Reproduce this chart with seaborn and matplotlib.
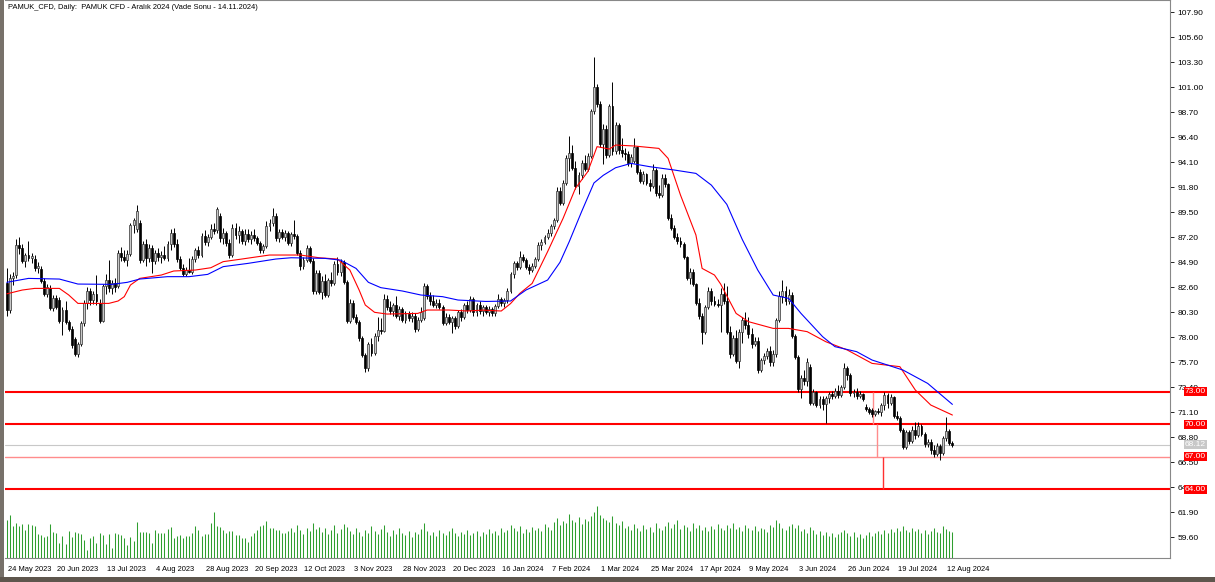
import numpy as np
import matplotlib
matplotlib.use("Agg")
import matplotlib.pyplot as plt
import matplotlib.transforms as mtransforms
from matplotlib.patches import Rectangle
import seaborn as sns

title_text = "PAMUK_CFD, Daily:  PAMUK CFD - Aralık 2024 (Vade Sonu - 14.11.2024)"

date_labels = ["24 May 2023", "20 Jun 2023", "13 Jul 2023", "4 Aug 2023", "28 Aug 2023",
               "20 Sep 2023", "12 Oct 2023", "3 Nov 2023", "28 Nov 2023", "20 Dec 2023",
               "16 Jan 2024", "7 Feb 2024", "1 Mar 2024", "25 Mar 2024", "17 Apr 2024",
               "9 May 2024", "3 Jun 2024", "26 Jun 2024", "19 Jul 2024", "12 Aug 2024"]
label_every = 16  # bars between date labels

price_ticks = [107.90, 105.60, 103.30, 101.00, 98.70, 96.40, 94.10, 91.80, 89.50, 87.20,
               84.90, 82.60, 80.30, 78.00, 75.70, 73.40, 71.10, 68.80, 66.50, 64.20,
               61.90, 59.60]

opens = [
    83.0, 80.5, 83.5, 83.7, 86.5, 86.2, 85.0, 85.6, 85.3, 85.2,
    84.4, 84.3, 83.2, 82.0, 82.5, 80.7, 81.6, 81.4, 79.5, 80.5,
    79.4, 78.8, 77.8, 76.5, 77.4, 79.3, 81.2, 82.3, 81.4, 82.0,
    81.2, 79.5, 82.7, 83.3, 82.5, 83.0, 82.7, 85.8, 85.4, 85.1,
    85.7, 88.3, 88.0, 88.5, 85.1, 86.6, 85.3, 86.2, 85.0, 85.8,
    85.4, 85.6, 85.3, 86.6, 87.6, 86.6, 85.2, 84.4, 83.8, 84.2,
    84.0, 85.2, 86.0, 85.6, 87.3, 86.8, 87.2, 88.0, 87.9, 89.2,
    87.1, 87.6, 86.7, 85.6, 88.1, 87.4, 87.8, 86.9, 87.5, 87.0,
    87.4, 87.1, 86.7, 86.0, 86.4, 88.2, 88.5, 89.2, 87.1, 87.7,
    87.2, 87.6, 86.7, 87.5, 87.3, 85.8, 84.6, 85.1, 86.2, 85.0,
    82.3, 83.9, 82.2, 83.2, 81.9, 83.3, 83.0, 84.7, 84.0, 84.9,
    83.1, 79.5, 81.2, 79.9, 79.4, 77.9, 76.4, 75.2, 77.4, 76.6,
    78.1, 78.7, 78.6, 81.5, 80.8, 80.4, 81.0, 80.0, 80.6, 79.6,
    80.1, 79.8, 80.0, 78.8, 79.6, 79.8, 82.7, 81.8, 81.3, 81.0,
    81.2, 80.8, 79.3, 79.9, 79.4, 79.8, 79.0, 80.3, 79.9, 81.0,
    80.5, 81.5, 80.3, 81.0, 80.4, 80.8, 80.3, 80.6, 80.2, 80.9,
    81.5, 81.2, 81.4, 82.3, 83.8, 84.8, 84.5, 85.4, 85.1, 84.5,
    84.2, 84.6, 85.2, 86.5, 86.8, 87.2, 87.6, 88.2, 88.8, 91.5,
    90.4, 92.2, 94.5, 95.0, 93.6, 91.9, 92.9, 94.0, 93.5, 94.7,
    98.8, 101.0, 99.5, 95.8, 97.2, 94.8, 99.3, 95.1, 97.5, 95.2,
    95.0, 94.9, 94.0, 94.2, 95.5, 93.2, 92.4, 93.0, 92.2, 91.9,
    93.4, 91.3, 91.1, 92.7, 92.1, 89.0, 88.1, 87.2, 86.9, 86.6,
    85.4, 83.5, 84.0, 82.9, 81.2, 80.0, 78.5, 80.8, 82.3, 81.3,
    81.1, 81.0, 82.0, 81.3, 78.5, 76.5, 77.9, 75.8, 78.5, 79.6,
    79.1, 78.3, 77.4, 77.7, 75.0, 75.9, 76.3, 76.7, 75.7, 76.5,
    79.6, 81.8, 82.3, 81.3, 81.9, 78.1, 76.2, 73.2, 74.3, 74.0,
    75.3, 72.0, 73.0, 71.8, 72.3, 71.9, 72.4, 72.8, 72.6, 73.1,
    72.7, 73.4, 75.2, 74.5, 72.9, 73.0, 72.6, 72.8, 71.6, 71.4,
    71.3, 70.9, 71.2, 71.1, 71.8, 72.7, 72.0, 72.5, 70.8, 70.6,
    69.5, 67.9, 69.3, 68.5, 69.5, 69.0, 69.8, 69.1, 68.2, 68.4,
    67.6, 67.3, 68.0, 67.4, 68.7, 69.4, 68.3,
]
highs = [
    84.4, 83.8, 84.0, 87.0, 87.2, 86.6, 85.8, 86.9, 85.8, 85.6,
    84.9, 84.6, 83.5, 82.9, 82.8, 81.9, 81.9, 81.7, 80.8, 81.3,
    79.6, 79.0, 78.0, 77.6, 79.5, 81.4, 82.6, 82.5, 82.3, 83.7,
    81.5, 82.9, 83.8, 85.1, 83.3, 83.5, 86.0, 86.3, 86.0, 86.0,
    88.5, 89.0, 90.2, 88.8, 86.9, 87.0, 86.6, 86.5, 86.0, 86.2,
    85.9, 86.4, 86.9, 88.0, 88.1, 87.0, 85.5, 84.7, 84.5, 85.3,
    85.5, 86.2, 86.4, 87.6, 87.9, 87.5, 88.4, 88.5, 90.0, 89.4,
    88.1, 87.8, 87.0, 88.4, 88.5, 88.2, 88.0, 88.0, 88.0, 87.8,
    88.0, 87.3, 86.9, 86.6, 88.7, 88.9, 89.9, 89.4, 88.0, 88.0,
    87.9, 87.8, 87.7, 88.8, 87.5, 86.0, 85.4, 86.5, 86.4, 85.3,
    84.2, 84.2, 83.6, 83.8, 83.5, 84.0, 85.0, 85.4, 85.2, 85.1,
    83.3, 81.5, 81.4, 80.1, 79.6, 78.1, 76.6, 77.6, 77.9, 78.4,
    79.9, 79.8, 82.0, 81.9, 81.3, 81.2, 81.8, 80.9, 80.8, 80.4,
    80.4, 80.3, 80.2, 79.9, 80.8, 83.0, 82.9, 82.2, 81.9, 81.5,
    81.5, 81.0, 80.2, 80.1, 80.0, 80.0, 80.5, 80.6, 81.2, 81.3,
    81.8, 81.7, 81.2, 81.3, 81.0, 81.0, 80.9, 80.8, 81.1, 82.0,
    81.7, 81.6, 82.5, 84.0, 85.0, 85.0, 85.9, 85.7, 85.3, 84.7,
    84.8, 85.4, 86.8, 87.0, 87.4, 88.0, 88.4, 89.0, 91.8, 91.8,
    92.5, 94.8, 96.5, 95.7, 94.2, 93.2, 94.3, 94.8, 95.0, 99.0,
    103.8, 101.3, 99.7, 97.6, 97.5, 99.5, 101.5, 97.8, 97.7, 96.3,
    95.4, 95.1, 94.9, 96.3, 95.6, 93.5, 93.3, 93.1, 92.6, 93.9,
    93.6, 92.0, 93.0, 93.0, 92.2, 89.3, 88.3, 87.6, 87.2, 86.8,
    85.5, 84.4, 84.3, 83.0, 81.6, 80.2, 81.0, 82.6, 82.5, 81.8,
    81.5, 82.5, 83.0, 82.7, 79.0, 78.2, 78.7, 78.8, 79.9, 80.3,
    79.9, 78.9, 78.0, 78.0, 76.1, 76.6, 77.0, 77.2, 76.8, 79.8,
    82.3, 83.3, 82.7, 82.4, 82.2, 78.3, 76.4, 74.5, 75.0, 76.1,
    75.5, 73.2, 73.1, 72.6, 72.6, 72.6, 73.0, 73.1, 73.3, 73.6,
    73.6, 75.6, 75.4, 74.7, 73.2, 73.3, 73.1, 72.9, 71.9, 71.6,
    71.5, 71.3, 71.5, 72.0, 73.0, 72.9, 72.8, 72.6, 71.2, 70.8,
    69.7, 69.5, 69.5, 69.8, 70.2, 70.2, 70.0, 69.3, 68.6, 68.6,
    68.1, 68.3, 68.2, 68.9, 70.7, 69.6, 68.5,
]
lows = [
    80.0, 80.2, 82.8, 83.5, 85.7, 84.8, 84.5, 85.0, 84.8, 84.1,
    83.9, 83.0, 81.8, 81.7, 80.5, 80.4, 80.6, 79.3, 78.2, 79.2,
    78.6, 77.0, 76.3, 76.2, 77.2, 79.0, 80.6, 81.0, 81.1, 81.0,
    79.3, 79.4, 82.0, 82.2, 82.0, 82.2, 82.5, 85.0, 84.9, 84.6,
    85.5, 87.6, 87.7, 84.8, 84.9, 84.6, 84.9, 83.9, 84.7, 85.0,
    84.8, 85.1, 85.0, 86.0, 86.3, 84.9, 84.2, 83.6, 83.6, 83.9,
    83.8, 84.9, 85.3, 85.4, 86.5, 86.4, 87.0, 87.5, 87.6, 86.8,
    86.6, 86.4, 85.3, 85.4, 87.0, 86.7, 86.6, 86.5, 86.8, 86.6,
    86.9, 86.5, 85.8, 85.8, 86.2, 87.8, 88.2, 86.9, 86.8, 87.0,
    86.9, 86.5, 86.4, 87.0, 85.6, 84.2, 84.3, 84.9, 84.8, 82.0,
    82.0, 82.0, 81.5, 81.7, 81.7, 82.7, 82.8, 83.7, 83.6, 82.9,
    79.3, 79.3, 79.7, 79.2, 77.7, 76.2, 74.8, 74.9, 76.3, 76.4,
    77.7, 78.3, 78.5, 80.5, 80.1, 80.0, 79.8, 79.6, 79.4, 79.3,
    79.5, 79.4, 78.5, 78.6, 79.4, 79.6, 81.5, 81.0, 80.8, 80.7,
    80.6, 79.1, 79.1, 79.2, 78.4, 78.8, 78.9, 79.5, 79.7, 80.2,
    80.3, 80.0, 80.0, 80.1, 80.0, 80.1, 80.0, 80.0, 80.0, 80.7,
    80.9, 80.8, 81.2, 82.1, 83.5, 84.2, 84.3, 84.9, 84.3, 83.8,
    84.0, 84.4, 85.0, 86.0, 86.6, 87.0, 87.3, 88.0, 88.6, 90.2,
    90.2, 92.0, 93.3, 93.4, 91.6, 91.2, 92.6, 93.3, 93.3, 94.5,
    98.5, 99.2, 95.5, 93.9, 94.5, 94.6, 94.8, 94.9, 94.9, 94.6,
    94.3, 93.8, 93.7, 94.0, 93.0, 92.2, 92.1, 92.0, 91.5, 91.7,
    91.0, 90.8, 90.9, 91.8, 88.8, 87.9, 87.0, 86.6, 86.3, 85.2,
    83.3, 82.9, 82.7, 81.0, 79.7, 77.4, 78.3, 80.6, 81.0, 80.9,
    80.8, 78.5, 81.1, 78.3, 76.1, 76.3, 75.6, 75.2, 77.5, 78.8,
    77.9, 77.0, 77.2, 74.7, 74.8, 75.5, 76.0, 75.4, 75.4, 76.2,
    79.4, 81.2, 81.0, 81.1, 77.9, 76.0, 73.0, 72.4, 73.6, 73.5,
    71.8, 71.8, 71.6, 71.5, 71.3, 70.1, 72.0, 72.3, 72.4, 72.4,
    72.5, 73.2, 74.1, 72.6, 72.5, 72.3, 72.4, 72.1, 71.2, 70.9,
    70.7, 70.8, 70.9, 70.8, 71.3, 71.5, 71.8, 70.6, 70.4, 69.3,
    67.7, 67.7, 68.2, 68.3, 68.6, 68.8, 68.9, 67.9, 67.9, 67.3,
    67.0, 67.1, 66.7, 67.2, 68.5, 68.1, 67.9,
]
closes = [
    80.5, 83.5, 83.6, 86.5, 86.2, 85.0, 85.6, 85.3, 85.5, 84.4,
    84.6, 83.2, 82.0, 82.6, 80.7, 81.6, 80.8, 79.5, 80.5, 79.4,
    78.8, 77.3, 76.5, 77.4, 79.3, 81.2, 82.3, 81.4, 82.0, 81.3,
    79.5, 82.7, 83.3, 82.5, 83.0, 82.6, 85.8, 85.4, 85.1, 85.7,
    88.3, 88.8, 89.6, 85.1, 86.6, 85.3, 86.2, 85.0, 85.8, 85.4,
    85.6, 85.3, 86.6, 87.6, 86.6, 85.2, 84.4, 83.8, 84.2, 84.0,
    85.2, 86.0, 85.6, 87.3, 86.8, 87.2, 88.0, 87.8, 89.8, 87.1,
    87.6, 86.7, 85.6, 88.1, 87.4, 87.8, 86.9, 87.5, 87.0, 87.4,
    87.1, 86.7, 86.0, 86.4, 88.2, 88.5, 89.2, 87.1, 87.7, 87.2,
    87.6, 86.7, 87.5, 87.3, 85.8, 84.6, 85.1, 86.2, 85.0, 82.3,
    83.9, 82.2, 83.2, 81.9, 83.3, 83.0, 84.7, 84.0, 84.9, 83.1,
    79.5, 81.2, 79.9, 79.4, 77.9, 76.4, 75.2, 77.4, 76.6, 78.1,
    78.7, 78.6, 81.5, 80.8, 80.4, 81.0, 80.0, 80.6, 79.6, 80.1,
    79.8, 80.0, 78.8, 79.6, 80.3, 82.7, 81.8, 81.3, 81.0, 81.2,
    80.8, 79.3, 79.9, 79.4, 79.8, 79.0, 80.3, 79.9, 81.0, 80.5,
    81.5, 80.3, 81.0, 80.4, 80.8, 80.3, 80.6, 80.2, 80.9, 81.5,
    81.2, 81.4, 82.3, 83.8, 84.8, 84.5, 85.4, 85.1, 84.5, 84.2,
    84.6, 85.2, 86.5, 86.8, 87.2, 87.6, 88.2, 88.8, 91.5, 90.4,
    92.2, 94.5, 95.0, 93.6, 91.9, 92.9, 94.0, 93.5, 94.7, 98.8,
    101.0, 99.5, 95.8, 97.2, 94.8, 99.3, 95.1, 97.5, 95.2, 95.0,
    94.9, 94.0, 94.6, 95.5, 93.2, 92.4, 93.0, 92.2, 91.9, 93.4,
    91.3, 91.1, 92.7, 92.1, 89.0, 88.1, 87.2, 86.9, 86.6, 85.4,
    83.5, 84.0, 82.9, 81.2, 80.0, 78.5, 80.8, 82.3, 81.3, 81.1,
    81.0, 82.0, 81.3, 78.5, 76.5, 77.9, 75.8, 78.5, 79.6, 79.1,
    78.3, 77.4, 77.7, 75.0, 75.9, 76.3, 76.7, 75.7, 76.5, 79.6,
    81.8, 82.3, 81.3, 81.9, 78.1, 76.2, 73.2, 74.3, 74.0, 75.7,
    72.0, 73.0, 71.8, 72.3, 71.9, 72.4, 72.8, 72.6, 73.1, 72.7,
    73.4, 75.2, 74.5, 72.9, 73.0, 72.6, 72.8, 72.3, 71.4, 71.1,
    70.9, 71.2, 71.1, 71.8, 72.7, 72.0, 72.5, 70.8, 70.6, 69.5,
    67.9, 69.3, 68.5, 69.5, 69.0, 69.8, 69.1, 68.2, 68.4, 67.6,
    67.3, 68.0, 67.4, 68.7, 69.4, 68.3, 68.12,
]
volumes = [
    38, 43, 32, 35, 32, 34, 28, 34, 33, 32,
    24, 23, 21, 22, 34, 26, 25, 15, 22, 14,
    27, 21, 26, 25, 24, 18, 8, 20, 22, 15,
    25, 23, 14, 24, 10, 25, 24, 23, 20, 13,
    21, 17, 36, 26, 26, 26, 25, 15, 28, 25,
    25, 25, 29, 31, 20, 22, 23, 20, 22, 22,
    25, 32, 28, 22, 24, 24, 35, 46, 32, 31,
    28, 25, 27, 27, 23, 23, 20, 20, 16, 22,
    25, 28, 32, 33, 37, 30, 30, 28, 28, 25,
    25, 27, 30, 26, 33, 28, 24, 30, 27, 35,
    29, 31, 26, 30, 24, 28, 33, 25, 29, 34,
    31, 27, 24, 30, 26, 22, 28, 25, 32, 27,
    24, 29, 33, 26, 22, 28, 24, 30, 25, 23,
    27, 21, 26, 24, 29, 35, 27, 23, 26, 22,
    28, 25, 23, 27, 30, 25, 22, 26, 24, 28,
    23, 25, 27, 22, 26, 24, 29, 25, 27, 23,
    30, 26, 28, 33, 30, 27, 32, 25, 29, 26,
    31, 28, 30, 27, 34, 31, 28, 36, 40, 33,
    37, 35, 44, 38, 36, 41, 34, 39, 37, 42,
    46, 52, 43, 40, 38, 36, 42, 35, 33, 37,
    30, 32, 28, 34, 30, 27, 33, 29, 31, 26,
    35, 30, 28, 32, 36, 30, 34, 38, 29, 33,
    31, 27, 35, 30, 33, 28, 31, 27, 32, 29,
    34, 30, 28, 33, 30, 35, 29, 31, 27, 33,
    30, 28, 32, 27, 30, 29, 26, 33, 31, 38,
    35, 30, 28, 32, 34, 30, 33, 27, 29, 25,
    31, 28, 24, 27, 23, 26, 22, 25, 21, 24,
    26, 28, 25, 22, 26, 21, 24, 20, 23, 26,
    22, 25, 27, 24, 28, 25, 29, 26, 30, 27,
    32, 28, 26, 30, 27, 29, 25, 28, 24, 27,
    30, 26, 25, 32, 29, 27, 26,
]

# moving averages at sample bars
ma_red_idx = [0, 5, 9, 17, 20, 23, 33, 36, 38, 40, 43, 50, 54, 61, 66, 70, 76, 85, 95,
              101, 107, 111, 114, 116, 119, 123, 133, 136, 143, 149, 154, 160, 163, 166,
              170, 175, 180, 184, 188, 191, 195, 197, 203, 211, 214, 218, 223, 225, 229,
              231, 236, 240, 248, 253, 259, 265, 272, 280, 289, 294, 299, 306]
ma_red_val = [82.0, 82.35, 82.5, 82.5, 81.9, 81.12, 81.12, 81.34, 81.74, 82.81, 83.42,
              83.73, 84.1, 84.19, 84.4, 84.96, 85.2, 85.57, 85.57, 85.32, 85.2, 84.19,
              82.35, 80.97, 80.3, 80.14, 80.2, 80.51, 80.51, 80.42, 80.5, 80.42, 81.1,
              82.04, 82.96, 85.88, 88.94, 91.7, 93.24, 95.54, 95.32, 95.69, 95.6, 95.38,
              94.46, 91.09, 87.41, 84.34, 83.73, 82.9, 80.2, 79.44, 78.82, 78.82, 78.52,
              77.6, 76.83, 75.6, 75.3, 73.15, 71.77, 70.85]
ma_blue_idx = [0, 7, 17, 23, 34, 39, 43, 52, 59, 65, 70, 78, 87, 92, 103, 108, 113, 117,
               121, 128, 134, 141, 146, 155, 163, 168, 175, 179, 182, 186, 190, 193, 197,
               202, 208, 216, 223, 228, 233, 238, 243, 248, 253, 257, 264, 268, 275, 280,
               290, 298, 306]
ma_blue_val = [83.06, 83.42, 83.36, 82.9, 82.87, 83.06, 83.36, 83.58, 83.58, 83.79, 84.5,
               84.8, 85.2, 85.32, 85.26, 85.1, 84.34, 83.06, 82.57, 82.26, 81.89, 81.74,
               81.43, 81.3, 81.34, 82.35, 83.27, 84.9, 86.8, 89.56, 92.2, 92.9, 93.6,
               94.0, 93.7, 93.39, 93.08, 92.0, 90.23, 87.0, 84.19, 81.89, 81.58, 80.2,
               78.06, 77.14, 76.68, 75.91, 74.99, 73.76, 71.83]

strong_levels = [73.0, 70.0, 64.0]
soft_level = 67.0
last_price = 68.12

sns.set_style("white")
plt.rcParams['font.family'] = ['Liberation Sans', 'DejaVu Sans']

W, H = 1215, 582
fig = plt.figure(figsize=(W / 100, H / 100), dpi=100)
fig.patch.set_facecolor("white")
ax = fig.add_axes([5 / W, 1 - 558 / H, 1165 / W, 558 / H])

n = len(closes)
x = np.arange(n)
o = np.array(opens)
c = np.array(closes)
up = c >= o

# level lines
ax.axhline(last_price, color="#c8c8c8", lw=0.8, zorder=1)
ax.axhline(soft_level, color="#ff8c8c", lw=1.0, zorder=1)
for lv in strong_levels:
    ax.axhline(lv, color="#ff0000", lw=1.5, zorder=1)
ax.vlines(280.3, 70.0, 73.0, color="#ff8c8c", lw=1.0, zorder=1)
ax.vlines(281.6, 67.0, 70.0, color="#ff8c8c", lw=1.0, zorder=1)
ax.vlines(283.5, 64.0, 67.0, color="#ff3030", lw=1.0, zorder=1)

# candles
ax.vlines(x, lows, highs, color="black", lw=0.7, zorder=2)
ax.bar(x[up], (c - o)[up], bottom=o[up], width=0.62, color="#c8c8c8",
       edgecolor="#303030", lw=0.5, zorder=3)
ax.bar(x[~up], (o - c)[~up], bottom=c[~up], width=0.62, color="black",
       edgecolor="black", lw=0.5, zorder=3)

# moving averages
sns.lineplot(x=ma_red_idx, y=ma_red_val, ax=ax, color="#ff0000", lw=0.8, zorder=4)
sns.lineplot(x=ma_blue_idx, y=ma_blue_val, ax=ax, color="#0000ff", lw=0.8, zorder=4)

ax.set_xlim(-0.6, -0.6 + 1165 / 3.09)
ax.set_ylim(107.90 - 545.7 / 10.87, 107.90 + 12.3 / 10.87)

# volume panel overlaid at the bottom
vax = fig.add_axes(ax.get_position(), sharex=ax)
vax.patch.set_visible(False)
vax.vlines(x, 0, volumes, color="#2f9e2f", lw=0.75)
vax.set_ylim(0, 558)
vax.set_axis_off()

# axes styling
ax.yaxis.tick_right()
ax.set_yticks(price_ticks)
ax.set_yticklabels([f"{t:.2f}" for t in price_ticks])
ax.tick_params(axis="y", direction="out", length=3, width=0.6, pad=2.5,
               labelsize=6.0, colors="black")
ax.set_xticks([i * label_every for i in range(len(date_labels))])
ax.set_xticklabels(date_labels, ha="left")
ax.tick_params(axis="x", direction="out", length=4, width=0.6, pad=1.5,
               labelsize=5.4, colors="black")
shift = mtransforms.ScaledTranslation(1.0 / 100, 0, fig.dpi_scale_trans)
for lbl in ax.get_xticklabels():
    lbl.set_transform(lbl.get_transform() + shift)
ax.set_xlabel("")
ax.set_ylabel("")
for side in ["right", "bottom", "top"]:
    ax.spines[side].set_color("#888888")
    ax.spines[side].set_linewidth(0.8)
ax.spines["left"].set_visible(False)

# price tags on the right, drawn over the axis labels as in the terminal
tag = mtransforms.blended_transform_factory(ax.transAxes, ax.transData)
for lv, fc in [(73.0, "#ff0000"), (70.0, "#ff0000"), (67.0, "#ff0000"),
               (64.0, "#ff0000"), (last_price, "#c8c8c8")]:
    ax.text(1.0128, lv, f"{lv:.2f}", transform=tag, ha="left", va="center",
            color="white", fontsize=6.0, clip_on=False, zorder=10,
            bbox=dict(boxstyle="square,pad=0.12", fc=fc, ec="none"))

ax.text(0.0025, 0.992, title_text, transform=ax.transAxes, ha="left", va="top",
        fontsize=5.4, color="black")

# window frame
fig.patches.append(Rectangle((0, 0), 4 / W, 1, transform=fig.transFigure,
                             facecolor="#77716a", edgecolor="none"))
fig.patches.append(Rectangle((0, 0), 1, 5 / H, transform=fig.transFigure,
                             facecolor="#5e564d", edgecolor="none"))

fig.savefig("out.png", dpi=100)
